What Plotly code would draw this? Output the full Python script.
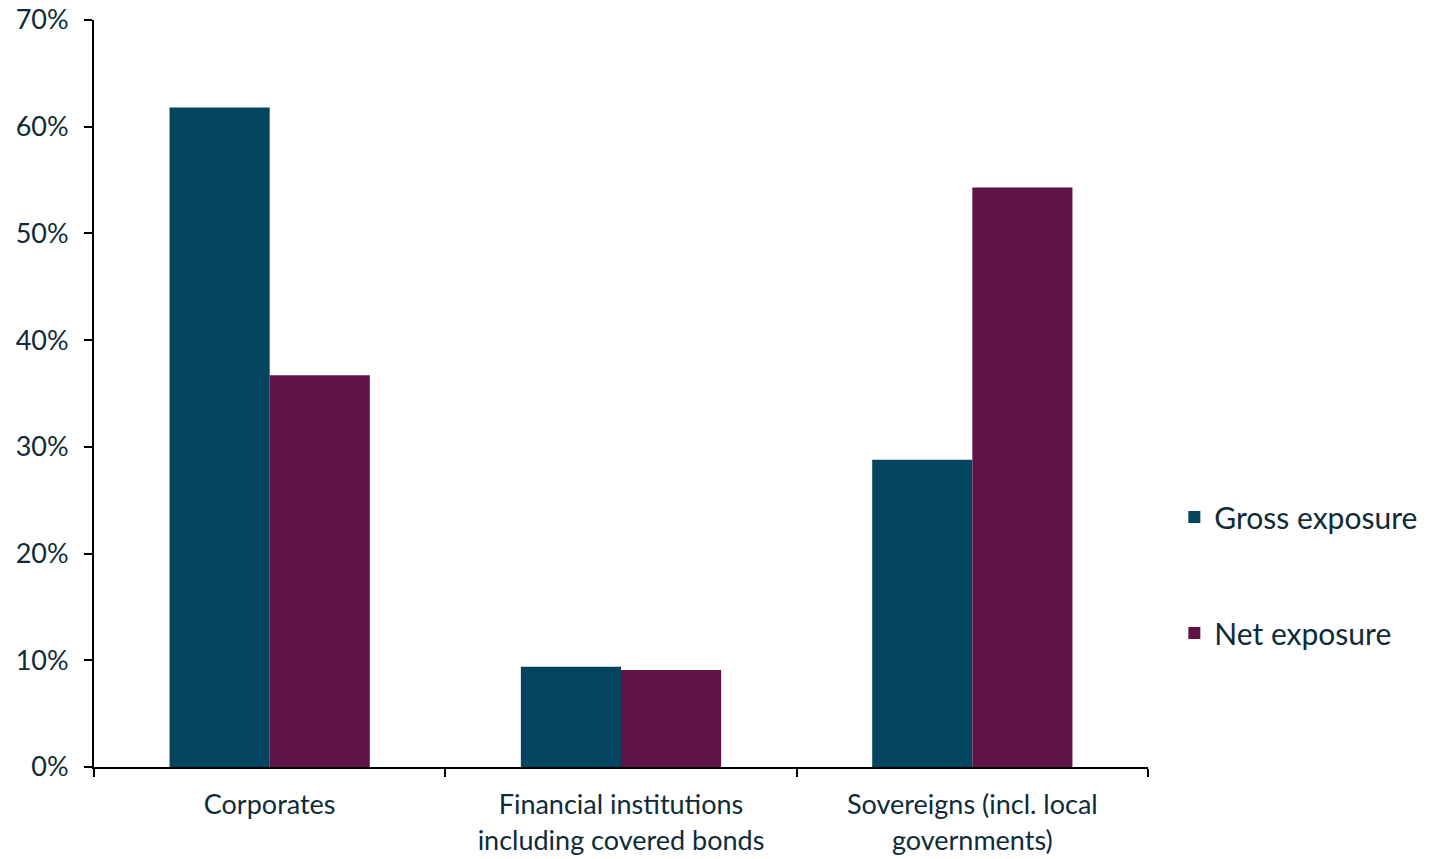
import plotly.graph_objects as go

categories = ["Corporates", "Financial institutions<br>including covered bonds",
              "Sovereigns (incl. local<br>governments)"]
gross_exposure = [61.8, 9.4, 28.8]
net_exposure = [36.7, 9.1, 54.3]
y_ticks = [0, 10, 20, 30, 40, 50, 60, 70]

text_color = "#0f2b38"
font_family = "Lato, 'Open Sans', sans-serif"

fig = go.Figure()
fig.add_trace(go.Bar(x=categories, y=gross_exposure, name="Gross exposure",
                     marker=dict(color="#03445F", line=dict(width=0)),
                     legendgroup="g"))
fig.add_trace(go.Bar(x=categories, y=net_exposure, name="Net exposure",
                     marker=dict(color="#5E1446", line=dict(width=0)),
                     legendgroup="n"))

fig.update_layout(
    width=1447, height=859,
    margin=dict(l=94, r=299, t=20, b=92),
    paper_bgcolor="white", plot_bgcolor="white",
    barmode="group", bargap=0.43, bargroupgap=0,
    font=dict(family=font_family, color=text_color, size=25),
    legend=dict(x=1.025, y=0.257, xanchor="left", yanchor="middle",
                font=dict(size=30), tracegroupgap=74,
                bgcolor="rgba(0,0,0,0)", itemwidth=30),
    showlegend=True,
)
fig.update_xaxes(showline=True, linecolor="#000000", linewidth=2,
                 ticks="outside", tickson="boundaries", ticklen=8,
                 tickcolor="#000000", tickwidth=2, automargin=False,
                 ticklabelstandoff=13,
                 tickfont=dict(size=27), showgrid=False)
fig.update_yaxes(range=[0, 70], tickvals=y_ticks,
                 ticktext=[f"{v}%" for v in y_ticks],
                 showline=True, linecolor="#000000", linewidth=2,
                 ticks="outside", ticklen=8, tickcolor="#000000", tickwidth=2,
                 automargin=False, ticklabelstandoff=10,
                 tickfont=dict(size=27), showgrid=False, zeroline=False)

fig.write_html("out.html")
